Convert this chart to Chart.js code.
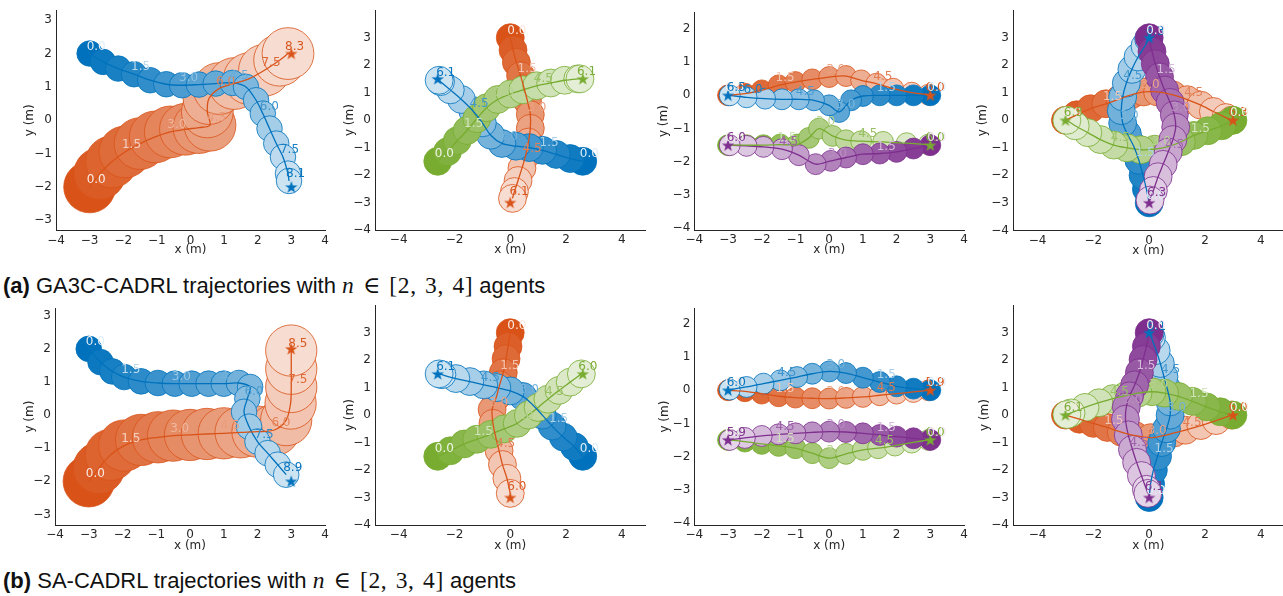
<!DOCTYPE html>
<html>
<head>
<meta charset="utf-8">
<script src="https://cdn.jsdelivr.net/npm/chart.js@4.4.1/dist/chart.umd.min.js"></script>
<style>
  body { margin: 0; background: #fff; width: 1283px; height: 596px; overflow: hidden; position: relative; }
  canvas { position: absolute; }
  .cap { position: absolute; left: 3px; font-family: "Liberation Sans", Arial, sans-serif; font-size: 22px; line-height: 23px; color: #111; white-space: nowrap; }
  .cap .m { font-family: "Liberation Serif", "DejaVu Serif", serif; font-size: 23.5px; letter-spacing: 0.6px; word-spacing: 2px; }
</style>
</head>
<body>
<div class="cap" style="top:274px"><b>(a)</b> GA3C-CADRL trajectories with <span class="m"><i>n</i> &isin; [2, 3, 4]</span> agents</div>
<div class="cap" style="top:569px"><b>(b)</b> SA-CADRL trajectories with <span class="m"><i>n</i> &isin; [2, 3, 4]</span> agents</div>
<script>
// agent colours (matlab palette)
const ORANGE = [217, 83, 25];
const BLUE = [0, 114, 189];
const GREEN = [119, 172, 48];
const PURPLE = [126, 47, 142];

const dt = 0.5; // one circle every 0.5 s, a label every 1.5 s

const xTicksNarrow = [-4, -3, -2, -1, 0, 1, 2, 3, 4];
const xTicksWide = [-4, -2, 0, 2, 4];
const yTicks33 = [-3, -2, -1, 0, 1, 2, 3];
const yTicks43 = [-4, -3, -2, -1, 0, 1, 2, 3];
const yTicks42 = [-4, -3, -2, -1, 0, 1, 2];

// ---- (a) GA3C-CADRL ----
// 2 agents
const p1Orange = [[-3.0,-2.0],[-2.7,-1.6],[-2.35,-1.25],[-1.95,-0.95],[-1.5,-0.7],[-1.05,-0.5],[-0.6,-0.35],[-0.15,-0.27],[0.25,-0.22],[0.58,-0.15],[0.5,0.25],[0.55,0.65],[0.85,0.95],[1.3,1.1],[1.75,1.25],[2.2,1.5],[2.65,1.8],[2.9,2.0]];
const p1Blue = [[-3.0,2.0],[-2.6,1.75],[-2.15,1.55],[-1.68,1.38],[-1.2,1.2],[-0.72,1.08],[-0.25,1.05],[0.25,1.07],[0.75,1.1],[1.25,1.12],[1.65,1.0],[1.95,0.6],[2.15,0.2],[2.35,-0.25],[2.55,-0.7],[2.75,-1.1],[2.9,-1.6],[2.93,-1.82]];
const p1End = [8.3, 8.1];
const p1Goal = [[3, 2], [3, -2]];
const p1Radius = [0.77, 0.38];
// 3 agents
const p2Orange = [[0,3],[0.1,2.55],[0.22,2.1],[0.37,1.62],[0.5,1.15],[0.62,0.68],[0.72,0.2],[0.72,-0.3],[0.65,-0.8],[0.55,-1.3],[0.42,-1.75],[0.28,-2.2],[0.15,-2.6],[0.08,-2.85]];
const p2Blue = [[2.6,-1.5],[2.15,-1.4],[1.65,-1.25],[1.16,-1.1],[0.68,-1.0],[0.2,-0.95],[-0.3,-0.85],[-0.7,-0.55],[-1.0,-0.1],[-1.35,0.35],[-1.75,0.75],[-2.15,1.1],[-2.5,1.4],[-2.55,1.45]];
const p2Green = [[-2.6,-1.5],[-2.25,-1.15],[-1.9,-0.75],[-1.55,-0.38],[-1.2,0.05],[-0.85,0.45],[-0.45,0.75],[0.0,0.95],[0.45,1.1],[0.95,1.25],[1.45,1.35],[1.95,1.45],[2.42,1.5],[2.5,1.5]];
const p2End = [6.1, 6.1, 6.1];
const p2Goal = [[0, -3], [-2.6, 1.5], [2.6, 1.5]];
// 4 agents, two pairs
const p3Orange = [[-3,0],[-2.5,0.05],[-2.0,0.15],[-1.5,0.3],[-1.0,0.4],[-0.5,0.48],[0.0,0.55],[0.5,0.58],[0.95,0.45],[1.4,0.35],[1.9,0.2],[2.45,0.08],[2.95,0.02]];
const p3Blue = [[3,0],[2.5,0.0],[2.0,0.0],[1.5,0.0],[1.0,-0.02],[0.65,-0.15],[0.3,-0.5],[0.0,-0.3],[-0.45,-0.15],[-0.9,-0.12],[-1.4,-0.12],[-1.9,-0.1],[-2.45,-0.06],[-2.95,0.0]];
const p3Green = [[-3,-1.5],[-2.45,-1.5],[-1.95,-1.5],[-1.45,-1.48],[-0.95,-1.48],[-0.6,-1.28],[-0.3,-1.0],[0.1,-1.22],[0.5,-1.35],[0.95,-1.38],[1.6,-1.4],[2.3,-1.44],[2.95,-1.48]];
const p3Purple = [[3,-1.5],[2.5,-1.6],[2.0,-1.7],[1.5,-1.75],[1.0,-1.77],[0.5,-1.87],[0.05,-1.97],[-0.4,-2.07],[-0.9,-1.8],[-1.4,-1.62],[-1.95,-1.55],[-2.45,-1.52],[-2.95,-1.5]];
const p3End = [6.0, 6.5, 6.0, 6.0];
const p3Goal = [[3, 0], [-3, 0], [3, -1.5], [-3, -1.5]];
// 4 agents, swap
const p4Orange = [[-3,0],[-2.6,0.2],[-2.1,0.42],[-1.55,0.6],[-1.05,0.78],[-0.65,0.92],[-0.2,1.03],[0.3,1.03],[0.85,0.92],[1.36,0.75],[1.85,0.55],[2.3,0.32],[2.75,0.1],[2.95,0.0]];
const p4Blue = [[0,-3],[-0.1,-2.5],[-0.22,-2.0],[-0.37,-1.45],[-0.55,-0.95],[-0.78,-0.5],[-0.95,-0.1],[-1.0,0.35],[-0.95,0.85],[-0.82,1.35],[-0.62,1.85],[-0.4,2.3],[-0.15,2.7],[-0.02,2.95]];
const p4Green = [[3,0],[2.6,-0.2],[2.1,-0.38],[1.6,-0.55],[1.15,-0.78],[0.7,-0.95],[0.2,-1.05],[-0.3,-1.07],[-0.8,-1.0],[-1.27,-0.9],[-1.75,-0.7],[-2.2,-0.45],[-2.65,-0.2],[-2.95,0.0]];
const p4Purple = [[0,3],[0.1,2.5],[0.22,2.05],[0.37,1.58],[0.55,1.1],[0.75,0.65],[0.9,0.2],[0.95,-0.25],[0.85,-0.7],[0.68,-1.15],[0.5,-1.6],[0.32,-2.05],[0.15,-2.55],[0.03,-2.9]];
const p4End = [6.3, 6.3, 6.3, 6.3];
const p4Goal = [[3, 0], [0, 3], [-3, 0], [0, -3]];

// ---- (b) SA-CADRL ----
const p5Orange = [[-3,-2],[-2.7,-1.6],[-2.35,-1.2],[-1.95,-0.92],[-1.45,-0.75],[-0.95,-0.67],[-0.5,-0.62],[0.0,-0.6],[0.5,-0.57],[1.0,-0.55],[1.5,-0.52],[2.0,-0.5],[2.5,-0.45],[2.85,-0.15],[2.98,0.35],[3.0,0.85],[3.0,1.4],[3.0,1.95]];
const p5Blue = [[-3,2],[-2.65,1.6],[-2.3,1.32],[-1.95,1.15],[-1.45,1.02],[-0.95,0.97],[-0.45,0.95],[0.05,0.95],[0.55,0.95],[1.0,0.95],[1.45,0.97],[1.78,0.85],[1.7,0.5],[1.6,0.1],[1.75,-0.35],[2.0,-0.8],[2.3,-1.15],[2.6,-1.5],[2.85,-1.8]];
const p5End = [8.5, 8.9];
const p5Goal = [[3, 2], [3, -2]];
const p5Radius = [0.76, 0.38];
const p6Orange = [[0,3],[-0.08,2.5],[-0.15,2.05],[-0.25,1.55],[-0.38,1.1],[-0.5,0.65],[-0.65,0.2],[-0.62,-0.3],[-0.52,-0.8],[-0.4,-1.3],[-0.28,-1.8],[-0.12,-2.3],[0,-2.85]];
const p6Blue = [[2.6,-1.5],[2.3,-1.15],[1.9,-0.8],[1.5,-0.4],[1.15,0.0],[0.8,0.38],[0.45,0.68],[0.0,0.88],[-0.48,1.0],[-0.95,1.1],[-1.45,1.22],[-1.95,1.33],[-2.45,1.47],[-2.55,1.5]];
const p6Green = [[-2.6,-1.5],[-2.15,-1.3],[-1.65,-1.05],[-1.2,-0.88],[-0.7,-0.7],[-0.22,-0.5],[0.25,-0.3],[0.65,0.0],[1.0,0.28],[1.35,0.58],[1.75,0.9],[2.15,1.2],[2.55,1.5]];
const p6End = [6.0, 6.1, 6.0];
const p6Goal = [[0, -3], [-2.6, 1.5], [2.6, 1.5]];
const p7Orange = [[-3,0],[-2.5,-0.03],[-2.0,-0.1],[-1.5,-0.18],[-1.0,-0.22],[-0.5,-0.24],[0.0,-0.25],[0.5,-0.23],[1.0,-0.2],[1.5,-0.15],[2.0,-0.1],[2.5,-0.05],[2.95,0.0]];
const p7Blue = [[3,0],[2.5,0.05],[2.0,0.12],[1.5,0.25],[1.0,0.38],[0.5,0.52],[0.0,0.57],[-0.5,0.5],[-0.95,0.4],[-1.45,0.3],[-1.95,0.2],[-2.45,0.1],[-2.95,0.02]];
const p7Green = [[-3,-1.5],[-2.5,-1.55],[-2.0,-1.62],[-1.5,-1.68],[-1.0,-1.75],[-0.5,-1.9],[0.0,-2.05],[0.5,-1.92],[1.0,-1.8],[1.45,-1.75],[1.95,-1.67],[2.45,-1.58],[2.95,-1.5]];
const p7Purple = [[3,-1.5],[2.5,-1.45],[2.0,-1.4],[1.5,-1.35],[1.0,-1.3],[0.5,-1.26],[0.0,-1.25],[-0.5,-1.27],[-1.0,-1.3],[-1.5,-1.33],[-2.0,-1.38],[-2.5,-1.44],[-2.95,-1.5]];
const p7End = [5.9, 6.0, 6.0, 5.9];
const p7Goal = [[3, 0], [-3, 0], [3, -1.5], [-3, -1.5]];
const p8Orange = [[-3,0],[-2.5,-0.15],[-2.0,-0.3],[-1.5,-0.45],[-1.0,-0.62],[-0.5,-0.75],[0.05,-0.82],[0.5,-0.75],[0.9,-0.65],[1.3,-0.55],[1.85,-0.38],[2.4,-0.2],[2.95,0.0]];
const p8Blue = [[0,-3],[0.05,-2.5],[0.15,-2.0],[0.3,-1.5],[0.45,-1.0],[0.62,-0.5],[0.75,0.0],[0.75,0.48],[0.65,0.95],[0.53,1.4],[0.4,1.88],[0.25,2.35],[0.08,2.82],[0.03,2.95]];
const p8Green = [[3,0],[2.55,0.12],[2.05,0.3],[1.55,0.5],[1.05,0.68],[0.55,0.8],[0.1,0.85],[-0.4,0.8],[-0.85,0.7],[-1.3,0.6],[-1.8,0.45],[-2.3,0.28],[-2.8,0.08],[-2.95,0.02]];
const p8Purple = [[0,3],[-0.1,2.5],[-0.22,2.02],[-0.35,1.55],[-0.52,1.1],[-0.7,0.7],[-0.82,0.3],[-0.85,-0.15],[-0.75,-0.72],[-0.6,-1.25],[-0.45,-1.72],[-0.28,-2.2],[-0.1,-2.7],[-0.05,-2.85]];
const p8End = [6.0, 6.1, 6.1, 6.1];
const p8Goal = [[3, 0], [0, 3], [-3, 0], [0, -3]];

function agent(color, pts, end, goal, r) {
  return { color, pts, end, goal, r };
}

// area = chart area in page pixels [left, top, right, bottom]
const panels = [
  { area: [56, 7.5, 325, 230.3], x: [-4, 4], y: [-3.3, 3.3], xt: xTicksNarrow, yt: yTicks33, yTitle: 26, xTitle: 20,
    agents: [agent(ORANGE, p1Orange, p1End[0], p1Goal[0], p1Radius[0]), agent(BLUE, p1Blue, p1End[1], p1Goal[1], p1Radius[1])] },
  { area: [375, 7.2, 645.5, 230], x: [-4.85, 4.85], y: [-4, 4], xt: xTicksWide, yt: yTicks43, yTitle: 25, xTitle: 20,
    agents: [agent(ORANGE, p2Orange, p2End[0], p2Goal[0], 0.5), agent(BLUE, p2Blue, p2End[1], p2Goal[1], 0.5), agent(GREEN, p2Green, p2End[2], p2Goal[2], 0.5)] },
  { area: [694.3, 9.3, 964, 230], x: [-4, 4], y: [-4.05, 2.5], xt: xTicksNarrow, yt: yTicks42, yTitle: 30, xTitle: 20,
    agents: [agent(ORANGE, p3Orange, p3End[0], p3Goal[0], 0.31), agent(BLUE, p3Blue, p3End[1], p3Goal[1], 0.31), agent(GREEN, p3Green, p3End[2], p3Goal[2], 0.31), agent(PURPLE, p3Purple, p3End[3], p3Goal[3], 0.31)] },
  { area: [1013, 7.6, 1283.7, 230.4], x: [-4.88, 4.82], y: [-4, 4], xt: xTicksWide, yt: yTicks43, yTitle: 30, xTitle: 20,
    agents: [agent(ORANGE, p4Orange, p4End[0], p4Goal[0], 0.5), agent(BLUE, p4Blue, p4End[1], p4Goal[1], 0.5), agent(GREEN, p4Green, p4End[2], p4Goal[2], 0.5), agent(PURPLE, p4Purple, p4End[3], p4Goal[3], 0.5)] },
  { area: [55, 305, 325, 525], x: [-4, 4], y: [-3.32, 3.23], xt: xTicksNarrow, yt: yTicks33, yTitle: 25, xTitle: 21,
    agents: [agent(ORANGE, p5Orange, p5End[0], p5Goal[0], p5Radius[0]), agent(BLUE, p5Blue, p5End[1], p5Goal[1], p5Radius[1])] },
  { area: [375, 302.2, 645.5, 525], x: [-4.85, 4.85], y: [-4, 4], xt: xTicksWide, yt: yTicks43, yTitle: 25, xTitle: 21,
    agents: [agent(ORANGE, p6Orange, p6End[0], p6Goal[0], 0.5), agent(BLUE, p6Blue, p6End[1], p6Goal[1], 0.5), agent(GREEN, p6Green, p6End[2], p6Goal[2], 0.5)] },
  { area: [694.3, 305, 964, 525], x: [-4, 4], y: [-4.07, 2.48], xt: xTicksNarrow, yt: yTicks42, yTitle: 29, xTitle: 21,
    agents: [agent(ORANGE, p7Orange, p7End[0], p7Goal[0], 0.31), agent(BLUE, p7Blue, p7End[1], p7Goal[1], 0.31), agent(GREEN, p7Green, p7End[2], p7Goal[2], 0.31), agent(PURPLE, p7Purple, p7End[3], p7Goal[3], 0.31)] },
  { area: [1013, 302.2, 1283.7, 525], x: [-4.88, 4.82], y: [-4, 4], xt: xTicksWide, yt: yTicks43, yTitle: 28, xTitle: 21,
    agents: [agent(ORANGE, p8Orange, p8End[0], p8Goal[0], 0.5), agent(BLUE, p8Blue, p8End[1], p8Goal[1], 0.5), agent(GREEN, p8Green, p8End[2], p8Goal[2], 0.5), agent(PURPLE, p8Purple, p8End[3], p8Goal[3], 0.5)] },
];

const TICK_FONT = { family: 'DejaVu Sans', size: 12 };
const TEXT_COLOR = '#262626';

function rgb(c) { return 'rgb(' + c.join(',') + ')'; }
function tint(c, a) {
  return 'rgb(' + c.map(v => Math.round(255 - a * (255 - v))).join(',') + ')';
}
function timeAt(a, i) { return i === a.pts.length - 1 ? a.end : i * dt; }
function minus(v) { return v < 0 ? '\u2212' + (-v) : String(v); }
function pxPerMeter(chart) {
  const s = chart.scales && chart.scales.x;
  if (!s) return 0;
  const k = Math.abs(s.getPixelForValue(1) - s.getPixelForValue(0));
  return isFinite(k) ? k : 0;
}
function starImage(c) {
  const cv = document.createElement('canvas');
  cv.width = cv.height = 14;
  const g = cv.getContext('2d');
  g.beginPath();
  for (let i = 0; i < 10; i++) {
    const rad = i % 2 ? 2.6 : 6.5;
    const ang = -Math.PI / 2 + i * Math.PI / 5;
    g.lineTo(7 + rad * Math.cos(ang), 7.5 + rad * Math.sin(ang));
  }
  g.closePath();
  g.fillStyle = rgb(c);
  g.fill();
  return cv;
}

// time stamps written next to the circles
const timeLabels = {
  id: 'timeLabels',
  afterDatasetsDraw(chart) {
    const agents = chart.$agents;
    if (!agents) return;
    const ctx = chart.ctx, xs = chart.scales.x, ys = chart.scales.y;
    ctx.save();
    ctx.font = '12px "DejaVu Sans"';
    ctx.textAlign = 'left';
    ctx.textBaseline = 'middle';
    agents.forEach(a => {
      const last = a.pts.length - 1;
      a.pts.forEach((p, i) => {
        const t = timeAt(a, i);
        const show = i === last || (i % 3 === 0 && a.end - t >= dt - 1e-6);
        if (!show) return;
        ctx.fillStyle = tint(a.color, 0.12 + 0.85 * t / a.end);
        ctx.fillText(t.toFixed(1), xs.getPixelForValue(p[0]) - 3, ys.getPixelForValue(p[1]) - 7);
      });
    });
    ctx.restore();
  }
};

panels.forEach((p, n) => {
  const [l, t, r, b] = p.area;
  const cLeft = Math.floor(l - 50), cTop = Math.floor(t - 8);
  const W = Math.ceil(r - cLeft + 10), H = Math.ceil(b - cTop + 32);
  const yW = p.yTitle + 7.2;
  const xH = cTop + H - b;
  const cv = document.createElement('canvas');
  cv.id = 'panel' + (n + 1);
  cv.width = W; cv.height = H;
  cv.style.left = cLeft + 'px'; cv.style.top = cTop + 'px';
  document.body.appendChild(cv);

  const datasets = [];
  p.agents.forEach((a, k) => {
    const data = a.pts.map(([x, y]) => ({ x, y }));
    datasets.push({
      data, order: 100 - k, showLine: false,
      pointRadius: c => a.r * pxPerMeter(c.chart),
      pointHoverRadius: c => a.r * pxPerMeter(c.chart),
      pointBackgroundColor: c => tint(a.color, 1 - 0.8 * timeAt(a, c.dataIndex) / a.end),
      pointBorderColor: rgb(a.color),
      pointBorderWidth: 0.8
    });
  });
  p.agents.forEach(a => {
    datasets.push({
      data: a.pts.map(([x, y]) => ({ x, y })), order: 10, showLine: true,
      pointRadius: 0, borderColor: rgb(a.color), borderWidth: 1.3, tension: 0.3
    });
  });
  p.agents.forEach(a => {
    datasets.push({
      data: [{ x: a.goal[0], y: a.goal[1] }], order: 1, showLine: false,
      pointStyle: starImage(a.color), pointRadius: 7, pointHoverRadius: 7
    });
  });

  const axisBase = {
    type: 'linear',
    grid: { display: false, drawTicks: false },
    border: { display: true, color: TEXT_COLOR, width: 1 },
  };
  const chart = new Chart(cv, {
    type: 'scatter',
    data: { datasets },
    options: {
      responsive: false,
      animation: false,
      events: [],
      layout: { autoPadding: false, padding: { left: l - cLeft - yW, top: t - cTop, right: cLeft + W - r, bottom: 0 } },
      plugins: { legend: { display: false }, tooltip: { enabled: false } },
      scales: {
        x: Object.assign({}, axisBase, {
          position: 'bottom', min: p.x[0], max: p.x[1],
          ticks: { font: TICK_FONT, color: TEXT_COLOR, padding: 3, maxRotation: 0, minRotation: 0, autoSkip: false, callback: minus },
          afterBuildTicks: s => { s.ticks = p.xt.map(v => ({ value: v })); },
          afterFit: s => { s.height = xH; },
          title: { display: true, text: 'x (m)', font: TICK_FONT, color: TEXT_COLOR, padding: { top: 0, bottom: xH - p.xTitle - 7.2 } }
        }),
        y: Object.assign({}, axisBase, {
          position: 'left', min: p.y[0], max: p.y[1],
          ticks: { font: TICK_FONT, color: TEXT_COLOR, padding: 4, autoSkip: false, callback: minus },
          afterBuildTicks: s => { s.ticks = p.yt.map(v => ({ value: v })); },
          afterFit: s => { s.width = yW; },
          title: { display: true, text: 'y (m)', font: TICK_FONT, color: TEXT_COLOR, padding: { top: 0, bottom: 0 } }
        })
      }
    },
    plugins: [timeLabels]
  });
  chart.$agents = p.agents;
  chart.draw();
});
</script>
</body>
</html>
